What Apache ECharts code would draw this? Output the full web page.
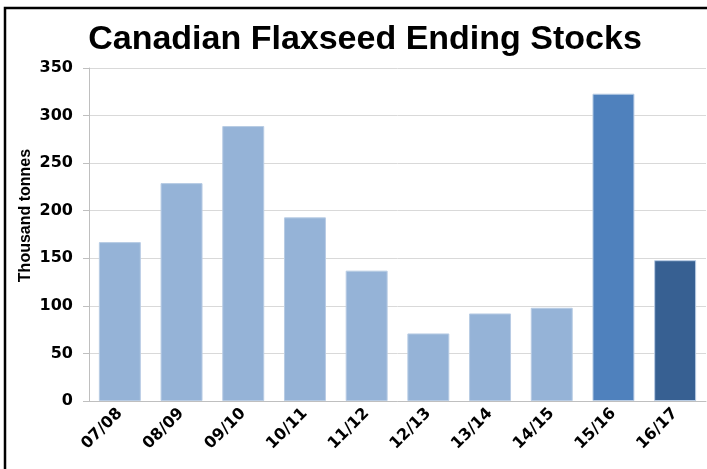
<!DOCTYPE html>
<html>
<head>
<meta charset="utf-8">
<script src="https://cdn.jsdelivr.net/npm/echarts@6/dist/echarts.min.js"></script>
<style>
  html, body { margin: 0; padding: 0; background: #fff; }
  #chart { width: 707px; height: 469px; }
</style>
</head>
<body>
<div id="chart"></div>
<script>
const seasons = ['07/08', '08/09', '09/10', '10/11', '11/12', '12/13', '13/14', '14/15', '15/16', '16/17']
const stocks = [167, 229, 289, 193, 137, 71, 92, 98, 323, 148]
const barColors = ['#95b3d7', '#95b3d7', '#95b3d7', '#95b3d7', '#95b3d7', '#95b3d7', '#95b3d7', '#95b3d7', '#4f81bd', '#376092']
const yTicks = [0, 50, 100, 150, 200, 250, 300, 350]

const chart = echarts.init(document.getElementById('chart'))

const font = 'Liberation Sans, Arial, sans-serif'
const wideFont = 'DejaVu Sans, sans-serif'

chart.setOption({
  animation: false,
  title: {
    text: 'Canadian Flaxseed Ending Stocks',
    left: 360,
    top: 18,
    textAlign: 'center',
    textStyle: { fontFamily: font, fontWeight: 'bold', fontSize: 34, color: '#000' }
  },
  graphic: [{
    type: 'rect',
    shape: { x: 5, y: 8, width: 720, height: 480 },
    style: { fill: 'none', stroke: '#000', lineWidth: 2.5 }
  }],
  grid: { left: 89, right: 1, top: 68, bottom: 68 },
  xAxis: {
    type: 'category',
    data: seasons,
    axisLine: { lineStyle: { color: '#bfbfbf' } },
    axisTick: { show: false },
    axisLabel: {
      rotate: 45,
      interval: 0,
      margin: 10,
      color: '#000',
      fontFamily: wideFont,
      fontWeight: 'bold',
      fontSize: 16
    }
  },
  yAxis: {
    type: 'value',
    min: 0,
    max: 350,
    interval: 50,
    name: 'Thousand tonnes',
    nameLocation: 'middle',
    nameGap: 55,
    nameMoveOverlap: false,
    nameTextStyle: { fontFamily: font, fontWeight: 'bold', fontSize: 16, color: '#000', padding: [0, 0, 0, 38] },
    axisLine: { show: true, lineStyle: { color: '#bfbfbf' } },
    axisTick: { show: true, length: 6, lineStyle: { color: '#bfbfbf' } },
    axisLabel: {
      margin: 16,
      color: '#000',
      fontFamily: wideFont,
      fontWeight: 'bold',
      fontSize: 16,
      formatter: v => yTicks.includes(v) ? String(v) : ''
    },
    splitLine: { lineStyle: { color: '#d9d9d9' } }
  },
  series: [{
    type: 'bar',
    barWidth: '68%',
    data: stocks.map((v, i) => ({
      value: v,
      itemStyle: { color: barColors[i], borderColor: '#b8cce4', borderWidth: 1 }
    }))
  }]
})
</script>
</body>
</html>
